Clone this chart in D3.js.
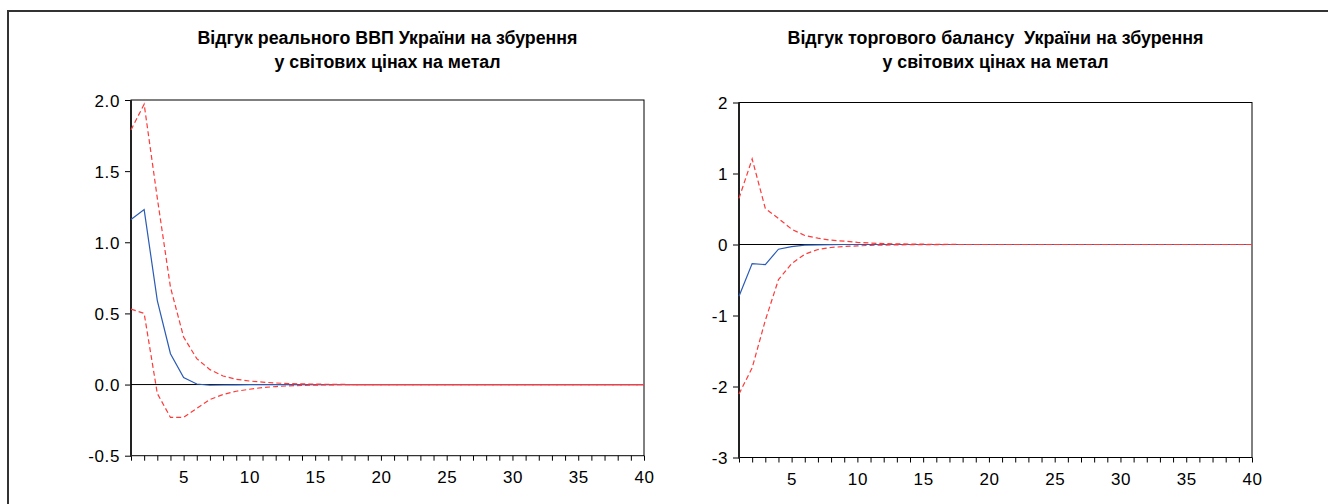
<!DOCTYPE html>
<html lang="uk">
<head>
<meta charset="UTF-8">
<title>Відгук на збурення у світових цінах на метал</title>
<style>
  body { margin: 0; background: #fff; }
  svg { display: block; }
  .tick text { font-family: "Liberation Sans", Arial, sans-serif; font-size: 17px; letter-spacing: 0.6px; fill: #000; }
  .tick line { stroke: #000; }
  .title { font-family: "Liberation Sans Narrow", "Arial Narrow", "Liberation Sans", sans-serif; font-weight: bold; font-size: 18px; fill: #000; white-space: pre; }
</style>
<script src="https://cdn.jsdelivr.net/npm/d3@7"></script>
</head>
<body>
<svg id="chart" width="1328" height="504"></svg>
<script>
// periods 1..40
const periods = d3.range(1, 41);

// response of real GDP (left panel)
const gdpResp  = [1.16, 1.23, 0.59, 0.217, 0.049, 0.004, -0.005, -0.003, -0.002, -0.001];
const gdpUpper = [1.79, 1.97, 1.31, 0.684, 0.334, 0.182, 0.105, 0.06, 0.037, 0.025, 0.017, 0.011, 0.007, 0.005, 0.003, 0.002, 0.001];
const gdpLower = [0.53, 0.50, -0.063, -0.231, -0.231, -0.168, -0.105, -0.07, -0.047, -0.033, -0.021, -0.014, -0.009, -0.006, -0.004, -0.002, -0.001];

// response of trade balance (right panel)
const tbResp  = [-0.73, -0.268, -0.283, -0.066, -0.029, -0.01, -0.004, -0.001];
const tbUpper = [0.65, 1.205, 0.508, 0.367, 0.216, 0.127, 0.089, 0.061, 0.047, 0.03, 0.02, 0.013, 0.009, 0.006, 0.004, 0.002, 0.001];
const tbLower = [-2.105, -1.737, -1.069, -0.495, -0.27, -0.137, -0.071, -0.042, -0.028, -0.02, -0.012, -0.008, -0.005, -0.003, -0.002, -0.001];

// tick labels
const gdpYTicks = [2.0, 1.5, 1.0, 0.5, 0.0, -0.5];
const gdpYLabels = ["2.0", "1.5", "1.0", "0.5", "0.0", "-0.5"];
const tbYTicks = [2, 1, 0, -1, -2, -3];
const tbYLabels = ["2", "1", "0", "-1", "-2", "-3"];
const xLabelTicks = [5, 10, 15, 20, 25, 30, 35, 40];

const gdpTitle = ["Відгук реального ВВП України на збурення", "у світових цінах на метал"];
const tbTitle  = ["Відгук торгового балансу  України на збурення", "у світових цінах на метал"];

// pad series out to 40 periods with the zero they settle on
const full = arr => periods.map((p, i) => i < arr.length ? arr[i] : 0);

const svg = d3.select("#chart");

// outer frame (top + left edges visible)
svg.append("line").attr("x1", 7).attr("x2", 1328).attr("y1", 11).attr("y2", 11)
  .attr("stroke", "#333").attr("stroke-width", 2);
svg.append("line").attr("x1", 8).attr("x2", 8).attr("y1", 10).attr("y2", 504)
  .attr("stroke", "#333").attr("stroke-width", 2);

function panel(opt) {
  const x = d3.scaleLinear().domain([1, 40]).range([opt.left, opt.right]);
  const y = d3.scaleLinear().domain(opt.yDomain).range([opt.bottom, opt.top]);
  const g = svg.append("g");

  // title
  opt.title.forEach((t, i) => {
    g.append("text").attr("class", "title")
      .attr("x", (opt.left + opt.right) / 2)
      .attr("y", 44 + i * 24)
      .attr("text-anchor", "middle")
      .attr("textLength", opt.titleLen[i])
      .attr("lengthAdjust", "spacingAndGlyphs")
      .text(t);
  });

  // y axis
  const labels = new Map(opt.yTicks.map((v, i) => [v, opt.yLabels[i]]));
  g.append("g")
    .attr("transform", `translate(${opt.left},0)`)
    .call(d3.axisLeft(y).tickValues(opt.yTicks).tickSize(6).tickPadding(5)
      .tickFormat(v => labels.get(v)))
    .call(a => a.select(".domain").remove())
    .selectAll(".tick text").attr("dy", "0.36em");

  // x axis: minor ticks on every period, labels every 5
  g.append("g")
    .attr("transform", `translate(0,${opt.bottom})`)
    .call(d3.axisBottom(x).tickValues(periods).tickSize(5).tickPadding(10)
      .tickFormat(v => xLabelTicks.includes(v) ? v : ""))
    .call(a => a.select(".domain").remove());

  // plot frame
  g.append("rect")
    .attr("x", opt.left).attr("y", opt.top)
    .attr("width", opt.right - opt.left).attr("height", opt.bottom - opt.top)
    .attr("fill", "none").attr("stroke", "#000").attr("stroke-width", 1);
  g.append("line")
    .attr("x1", opt.left).attr("x2", opt.left)
    .attr("y1", opt.top).attr("y2", opt.bottom + 1)
    .attr("stroke", "#222").attr("stroke-width", 2);

  // zero line
  g.append("line")
    .attr("x1", opt.left).attr("x2", opt.right)
    .attr("y1", y(0)).attr("y2", y(0))
    .attr("stroke", "#000").attr("stroke-width", 1);

  const line = d3.line().x((d, i) => x(periods[i])).y(d => y(d));

  g.append("path").datum(full(opt.resp))
    .attr("d", line).attr("fill", "none")
    .attr("stroke", "#2a5bb5").attr("stroke-width", 1.2);

  [opt.upper, opt.lower].forEach(band => {
    g.append("path").datum(full(band))
      .attr("d", line).attr("fill", "none")
      .attr("stroke", "#ff3a3a").attr("stroke-width", 1.2)
      .attr("stroke-dasharray", "5,3");
  });
}

panel({
  left: 131, right: 644, top: 100, bottom: 455.7,
  yDomain: [-0.5, 2.0], yTicks: gdpYTicks, yLabels: gdpYLabels,
  resp: gdpResp, upper: gdpUpper, lower: gdpLower,
  title: gdpTitle, titleLen: [380, 226]
});

panel({
  left: 739, right: 1252, top: 102.5, bottom: 457.5,
  yDomain: [-3, 2], yTicks: tbYTicks, yLabels: tbYLabels,
  resp: tbResp, upper: tbUpper, lower: tbLower,
  title: tbTitle, titleLen: [416, 226]
});
</script>
</body>
</html>
